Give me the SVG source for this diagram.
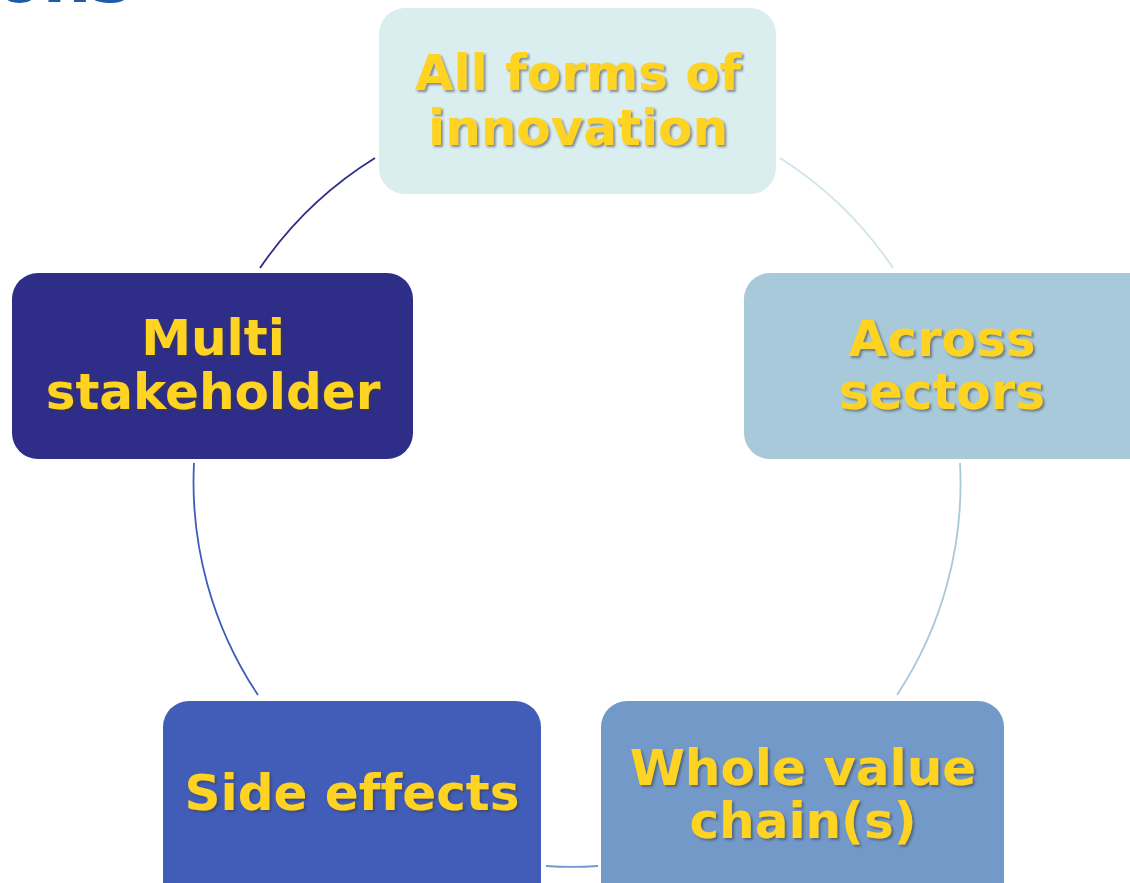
<svg xmlns="http://www.w3.org/2000/svg" width="1130" height="883" viewBox="0 0 1130 883">
  <defs>
    <filter id="shadow" x="-10%" y="-20%" width="120%" height="140%">
      <feDropShadow dx="2" dy="2" stdDeviation="1" flood-color="#3a3a3a" flood-opacity="0.55"/>
    </filter>
  </defs>
  <style>
    .lbl { font-family: "DejaVu Sans", Verdana, sans-serif; font-weight: bold; font-size: 50px; fill: #FFD320; text-anchor: middle; filter: url(#shadow); font-variant-ligatures: none; }
    .arc { fill: none; stroke-width: 1.8; }
    .title { font-family: "DejaVu Sans", Verdana, sans-serif; font-weight: bold; font-size: 68px; fill: #1F5BA6; }
  </style>
  <rect width="1130" height="883" fill="#FFFFFF"/>
  <text class="title" x="-4" y="2">ons</text>
  <g id="connectors">
    <path class="arc" stroke="#2E2D88" d="M260,268 A383.5,383.5 0 0 1 375,158"/>
    <path class="arc" stroke="#CDE6EA" d="M780,158 A383.5,383.5 0 0 1 893,268"/>
    <path class="arc" stroke="#A7C9D9" d="M960,463 A383.5,383.5 0 0 1 897,695"/>
    <path class="arc" stroke="#7399C9" d="M598,866 A383.5,383.5 0 0 1 546,866"/>
    <path class="arc" stroke="#415DB8" d="M258,695 A383.5,383.5 0 0 1 194,463"/>
  </g>
  <g id="node-innovation">
    <rect x="379" y="8" width="397" height="186" rx="26" fill="#DAEDEF"/>
    <text class="lbl" x="578" y="90">All forms of</text>
    <text class="lbl" x="578" y="145">innovation</text>
  </g>
  <g id="node-sectors">
    <rect x="744" y="273" width="410" height="186" rx="26" fill="#A7C9D9"/>
    <text class="lbl" x="942" y="356">Across</text>
    <text class="lbl" x="942" y="409">sectors</text>
  </g>
  <g id="node-valuechain">
    <rect x="601" y="701" width="403" height="210" rx="26" fill="#7399C9"/>
    <text class="lbl" x="803" y="785">Whole value</text>
    <text class="lbl" x="803" y="838">chain(s)</text>
  </g>
  <g id="node-sideeffects">
    <rect x="163" y="701" width="378" height="210" rx="26" fill="#415DB8"/>
    <text class="lbl" x="352" y="810">Side effects</text>
  </g>
  <g id="node-multistakeholder">
    <rect x="12" y="273" width="401" height="186" rx="26" fill="#2E2D88"/>
    <text class="lbl" x="213" y="355">Multi</text>
    <text class="lbl" x="213" y="409">stakeholder</text>
  </g>
</svg>
